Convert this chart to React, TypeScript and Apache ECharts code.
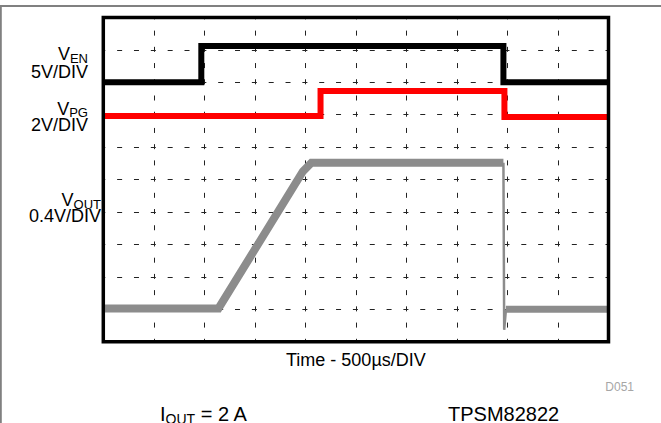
import React, { useEffect, useRef } from "react";
import * as echarts from "echarts";

// ---- data (x in time divisions 0..10, y in screen divisions 0..10) ----
const venTime = [0, 1.94, 1.94, 7.92, 7.92, 10];
const venLevel = [8.0, 8.0, 9.12, 9.12, 8.0, 8.0];

const vpgTime = [0, 4.3, 4.3, 7.94, 7.94, 10];
const vpgLevel = [6.96, 6.96, 7.73, 7.73, 6.93, 6.93];

const voutRiseTime = [0, 2.28, 3.95, 4.12, 7.92];
const voutRiseLevel = [1.03, 1.03, 5.25, 5.52, 5.52];
const voutFallTime = [7.92, 7.935, 7.97];
const voutFallLevel = [5.52, 0.37, 1.0];
const voutTailTime = [7.97, 10];
const voutTailLevel = [1.0, 1.0];

const channelMain = ["V", "V", "V"];
const channelSub = ["EN", "PG", "OUT"];
const channelScale = ["5V/DIV", "2V/DIV", "0.4V/DIV"];
const xAxisTitle = "Time - 500\u00b5s/DIV";
const figureId = "D051";
const condMain = "I";
const condSub = "OUT";
const condRest = " = 2 A";
const deviceName = "TPSM82822";

const pairs = (xs: number[], ys: number[]) => xs.map((x, i) => [x, ys[i]]);

const FONT = '"Liberation Sans", Arial, Helvetica, sans-serif';

let measureCtx: CanvasRenderingContext2D | null = null;
function textWidth(t: string, size: number) {
  if (!measureCtx) measureCtx = document.createElement("canvas").getContext("2d");
  measureCtx!.font = `${size}px ${FONT}`;
  return measureCtx!.measureText(t).width;
}

function txt(text: string, x: number, y: number, size: number, align: string, fill = "#000") {
  return {
    type: "text",
    x,
    y,
    z: 200,
    style: { text, fontSize: size, fontFamily: FONT, fill, align, verticalAlign: "middle" },
  };
}

export default function App() {
  const ref = useRef<HTMLDivElement>(null);

  useEffect(() => {
    document.body.style.margin = "0";
    const chart = echarts.init(ref.current!, null, { renderer: "svg" });

    const gL = 103.3, gT = 17.4, gW = 505.2, gH = 324.4;
    const periodX = gW / 30;
    const periodY = gH / 20;

    const graphic: any[] = [];
    // outer frame lines (drawn as thin filled rects)
    graphic.push({ type: "rect", z: 300, silent: true, shape: { x: 0, y: 5, width: 661, height: 2 }, style: { fill: "#808080" } });
    graphic.push({ type: "rect", z: 300, silent: true, shape: { x: 0, y: 5, width: 1.8, height: 418 }, style: { fill: "#808080" } });
    // plot box
    graphic.push({ type: "rect", z: 150, shape: { x: gL, y: gT, width: gW, height: gH }, style: { fill: "none", stroke: "#000", lineWidth: 3.5 } });

    // channel labels
    const mainSize = 18, subSize = 13;
    const labelRight = [88, 88, 101];
    const mainBase = [60.5, 115, 206.7];
    const scaleBase = [78.3, 131.7, 222.7];
    for (let i = 0; i < channelMain.length; i++) {
      const sw = textWidth(channelSub[i], subSize);
      graphic.push(txt(channelSub[i], labelRight[i], mainBase[i] + 2.5 - subSize * 0.35, subSize, "right"));
      graphic.push(txt(channelMain[i], labelRight[i] - sw, mainBase[i] - mainSize * 0.35, mainSize, "right"));
      graphic.push(txt(channelScale[i], labelRight[i], scaleBase[i] - mainSize * 0.35, mainSize, "right"));
    }

    graphic.push(txt(xAxisTitle, gL + gW / 2, 366.7 - mainSize * 0.35, mainSize, "center"));
    graphic.push(txt(figureId, 634, 390.7 - 12 * 0.35, 12, "right", "#a6a6a6"));

    const bigSize = 20, bigSub = 14;
    const condX = 160;
    const condBase = 421;
    graphic.push(txt(condMain, condX, condBase - bigSize * 0.35, bigSize, "left"));
    const mW = textWidth(condMain, bigSize);
    graphic.push(txt(condSub, condX + mW, condBase + 3 - bigSub * 0.35, bigSub, "left"));
    const sW = textWidth(condSub, bigSub);
    graphic.push(txt(condRest, condX + mW + sW, condBase - bigSize * 0.35, bigSize, "left"));
    graphic.push(txt(deviceName, 448, condBase - bigSize * 0.35, bigSize, "left"));

    const lineSeries = (data: number[][], color: string, width: number, z = 10) => ({
      type: "line",
      data,
      showSymbol: false,
      symbol: "none",
      z,
      lineStyle: { color, width, cap: "butt", join: "miter" },
    });

    chart.setOption({
      animation: false,
      grid: { left: gL, top: gT, width: gW, height: gH, show: false, containLabel: false },
      xAxis: {
        type: "value",
        min: 0,
        max: 10,
        interval: 1,
        axisLine: { show: false },
        axisTick: { show: false },
        axisLabel: { show: false },
        splitLine: {
          show: true,
          lineStyle: { color: "#222", width: 1, type: [5, periodY - 5], dashOffset: 2.5 },
        },
      },
      yAxis: {
        type: "value",
        min: 0,
        max: 10,
        interval: 1,
        axisLine: { show: false },
        axisTick: { show: false },
        axisLabel: { show: false },
        splitLine: {
          show: true,
          lineStyle: { color: "#222", width: 1, type: [5, periodX - 5], dashOffset: 2.5 },
        },
      },
      series: [
        lineSeries(pairs(voutRiseTime, voutRiseLevel), "#8c8c8c", 8, 10),
        lineSeries(pairs(voutFallTime, voutFallLevel), "#8c8c8c", 2.5, 10),
        lineSeries(pairs(voutTailTime, voutTailLevel), "#8c8c8c", 7, 10),
        lineSeries(pairs(vpgTime, vpgLevel), "#ff0000", 6, 11),
        lineSeries(pairs(venTime, venLevel), "#000000", 6, 12),
      ],
      graphic,
    });

    return () => chart.dispose();
  }, []);

  return <div ref={ref} style={{ width: 661, height: 423 }} />;
}
